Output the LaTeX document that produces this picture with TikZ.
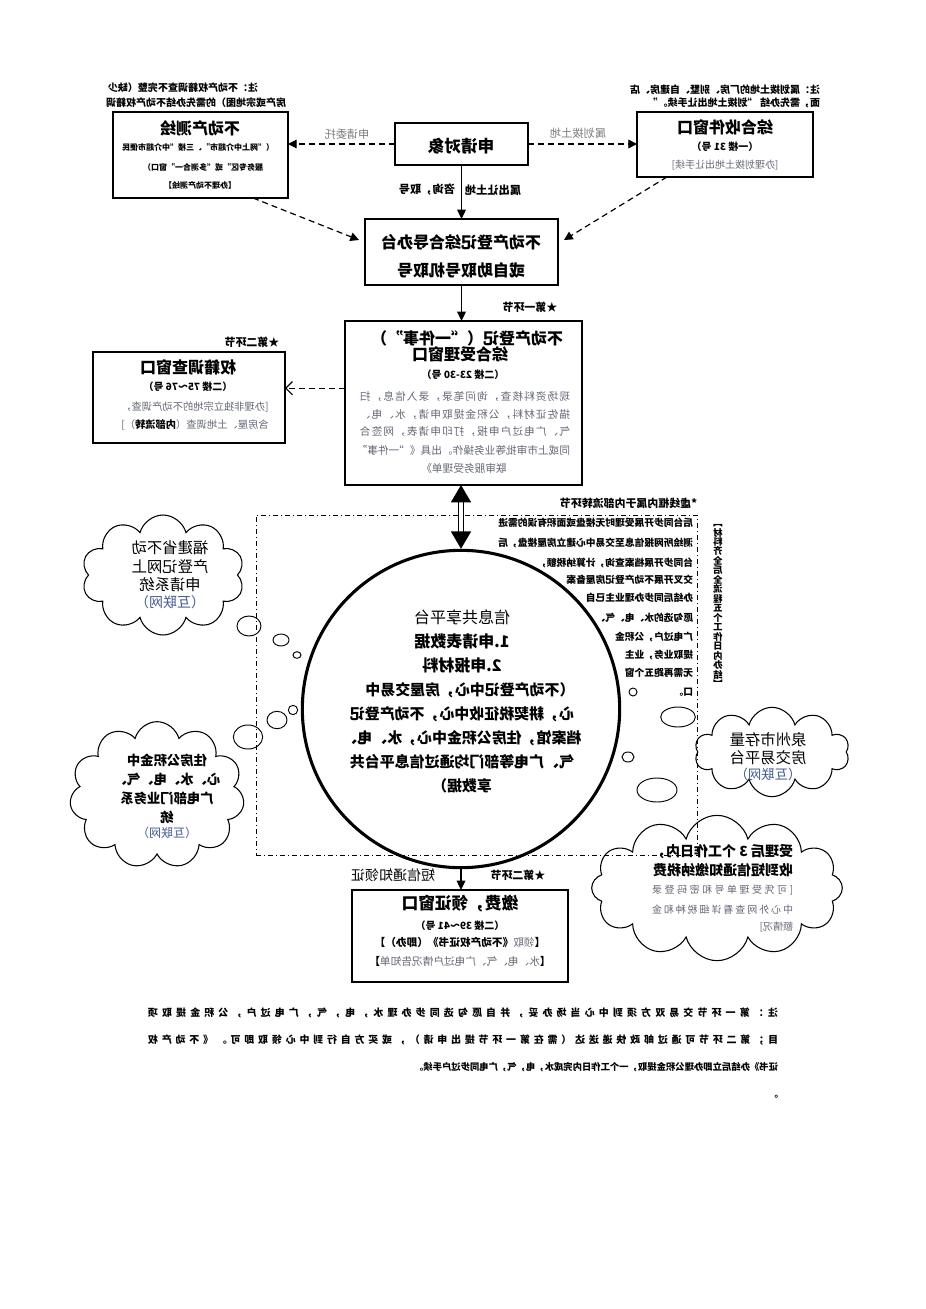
\documentclass[tikz,border=0pt]{standalone}
\usepackage{fontspec}
\setmainfont{Noto Sans CJK SC}
\usepackage{graphicx}
\usetikzlibrary{arrows.meta,shapes.symbols,shapes.geometric,fit,calc}
\definecolor{gtx}{RGB}{100,104,118}
\definecolor{blu}{RGB}{70,92,145}
\definecolor{lgr}{RGB}{125,125,125}
\newcommand\mr[1]{\reflectbox{#1}}
\newcommand\fs[1]{\fontsize{#1}{#1}\selectfont}
\makeatletter
\def\sprd#1{\sprd@a#1\sprd@end}
\def\sprd@end{\sprd@end}
\def\sprd@a#1{#1\sprd@b}
\def\sprd@b#1{\ifx#1\sprd@end\else\hfill#1\expandafter\sprd@b\fi}
\def\vst#1{\vst@a#1\sprd@end}
\def\vst@a#1{\ifx#1\sprd@end\else\hbox to 7pt{\hss#1\hss}\expandafter\vst@a\fi}
\makeatother
\newcommand\spr[2]{\hbox to #1{\sprd{#2}}}
\begin{document}
\begin{tikzpicture}[x=0.75pt,y=-0.75pt,
 box/.style={draw,line width=0.9pt,inner sep=0pt,outer sep=0pt},
 tx/.style={inner sep=0pt,outer sep=0pt},
 dsh/.style={line width=0.9pt,dash pattern=on 4.5pt off 3pt},
 tip/.style={-{Triangle[length=6.5pt,width=6.5pt]}},
 tri/.style={line width=0.9pt,-{Triangle[length=7pt,width=6.5pt]}},
 bub/.style={ellipse,draw,line width=0.7pt,inner sep=0pt},
 cld/.style={cloud,draw,line width=0.8pt,cloud ignores aspect,inner sep=0pt}]
\fill[white] (0,0) rectangle (925,1309);
\useasboundingbox (0,0) rectangle (925,1309);

% ---------- boxes ----------
\node[box,fit={(113,112)(288,198)}] (ch) {};
\node[box,fit={(395,123)(528,165)}] (so) {};
\node[box,fit={(637,112)(813,177)}] (zh) {};
\node[box,fit={(365,219)(558,285)}] (dt) {};
\node[box,fit={(345,321)(582,485)}] (sl) {};
\node[box,fit={(93,352)(285,443)}] (qj) {};
\node[box,fit={(352,890)(568,982)}] (lz) {};
\node[draw,line width=0.6pt,dash pattern=on 4pt off 2pt on 1pt off 2pt,inner sep=0pt,fit={(256,515)(697,855)}] (dreg) {};
\node[circle,draw,line width=2.3pt,minimum size=238pt,inner sep=0pt] (circ) at (461,709) {};

% ---------- clouds and bubbles ----------
\node[cld,cloud puffs=10,minimum width=122pt,minimum height=90pt] (cl1) at (163,575) {};
\node[cld,cloud puffs=11,minimum width=131pt,minimum height=110pt] (cl2) at (157,795) {};
\node[cld,cloud puffs=10,minimum width=116pt,minimum height=67pt] (cl3) at (772,752) {};
\node[cld,cloud puffs=12,minimum width=188pt,minimum height=109pt] (cl4) at (717,888) {};
\node[bub,minimum width=18pt,minimum height=15pt] (b1) at (249,626) {};
\node[bub,minimum width=12pt,minimum height=9pt] (b2) at (281,640) {};
\node[bub,minimum width=6pt,minimum height=5pt] (b3) at (297,655) {};
\node[bub,minimum width=22pt,minimum height=18pt] (b4) at (248,737) {};
\node[bub,minimum width=15pt,minimum height=13pt] (b5) at (277,720) {};
\node[bub,minimum width=7pt,minimum height=7pt] (b6) at (293,710) {};
\node[bub,minimum width=6pt,minimum height=6pt] (b7) at (633,692) {};
\node[bub,minimum width=26pt,minimum height=15pt] (b8) at (678,717) {};
\node[bub,minimum width=9pt,minimum height=7.5pt] (b9) at (628,757) {};
\node[bub,minimum width=30pt,minimum height=18pt] (b10) at (657,790) {};

% ---------- connectors ----------
\draw[dsh,tip] (so.west) -- (so.west -| ch.east);
\draw[dsh,tip] (so.east) -- (so.east -| zh.west);
\draw[dsh,tip] ($(ch.south west)!0.8!(ch.south east)$) -- ($(dt.west)+(-6,-12)$);
\draw[dsh,tip] ($(zh.south west)!0.17!(zh.south east)$) -- ($(dt.east)+(6,-12)$);
\draw[tri] (so.south) -- (so.south |- dt.north);
\draw[tri] (dt.south) -- (dt.south |- sl.north);
\draw[dsh,-{Straight Barb[length=5pt,width=10pt]}] ($(sl.north west)!0.41!(sl.south west)$) coordinate (a1) -- (a1 -| qj.east);
\draw[line width=0.9pt,double distance=2.5pt,{Triangle[length=13pt,width=15pt]}-{Triangle[length=13pt,width=15pt]}] (circ.north |- sl.south) -- (circ.north);
\draw[tri] (circ.south) -- (circ.south |- lz.north);

% ---------- top notes ----------
\node[tx] (n1) at (183,88) {\fs{7.5}\bfseries\mr{注：不动产权籍调查不完整（缺少}};
\node[tx] (n2) at (196,103) {\fs{7.5}\bfseries\mr{房产或宗地图）的需先办结不动产权籍调}};
\node[tx,anchor=east] (n3) at (820,90) {\fs{7.5}\bfseries\mr{注：属划拨土地的厂房、别墅、自建房、店}};
\node[tx,anchor=east] (n4) at (820,103) {\fs{7.5}\bfseries\mr{面，需先办结 “划拨土地出让手续。”}};

% ---------- 不动产测绘 ----------
\node[tx] (ch1) at (200,128) {\fs{12}\bfseries\mr{不动产测绘}};
\node[tx] (ch2) at (198,147) {\fs{6}\bfseries\mr{（“网上中介超市”、三楼“中介超市便民}};
\node[tx] (ch3) at (203,167) {\fs{6}\bfseries\mr{服务专区”或“多测合一”窗口）}};
\node[tx] (ch4) at (200,185) {\fs{6}\bfseries\mr{【办理不动产测绘】}};

% ---------- 申请对象 ----------
\node[tx] (so1) at (461,146) {\fs{12.5}\bfseries\mr{申请对象}};
\node[tx] (l1) at (347,134) {\fs{8.4}\color{lgr}\mr{申请委托}};
\node[tx] (l2) at (578,133) {\fs{8.4}\color{lgr}\mr{属划拨土地}};
\node[tx] (l3) at (493,190) {\fs{8.4}\bfseries\mr{属出让土地}};
\node[tx] (l4) at (427,190) {\fs{8.4}\bfseries\mr{咨询，取号}};

% ---------- 综合收件窗口 ----------
\node[tx] (zh1) at (725,127) {\fs{12}\bfseries\mr{综合收件窗口}};
\node[tx] (zh2) at (725,147) {\fs{7.5}\bfseries\mr{（一楼 31 号）}};
\node[tx] (zh3) at (725,165) {\fs{7.5}\color{gtx}\mr{[办理划拨土地出让手续]}};

% ---------- 导办台 ----------
\node[tx] (dt1) at (461,242) {\fs{12}\bfseries\mr{不动产登记综合导办台}};
\node[tx] (dt2) at (461,270) {\fs{12}\bfseries\mr{或自助取号机取号}};
\node[tx] (s1) at (530,307) {\fs{8.2}\bfseries\mr{★第一环节}};

% ---------- 综合受理窗口 ----------
\node[tx] (sl1) at (467,338) {\fs{12}\bfseries\mr{不动产登记（“一件事”）}};
\node[tx] (sl2) at (460,354) {\fs{12}\bfseries\mr{综合受理窗口}};
\node[tx] (sl3) at (463,375) {\fs{7.5}\bfseries\mr{（二楼 23-30 号）}};
\node[tx] (sl4) at (465,397) {\fs{8}\color{gtx}\mr{\spr{157.5pt}{现场资料核查，询问笔录，录入信息，扫}}};
\node[tx] (sl5) at (465,415) {\fs{8}\color{gtx}\mr{\spr{157.5pt}{描佐证材料，公积金提取申请，水、电、}}};
\node[tx] (sl6) at (465,432) {\fs{8}\color{gtx}\mr{\spr{157.5pt}{气、广电过户申报，打印申请表，网签合}}};
\node[tx] (sl7) at (465,450) {\fs{8}\color{gtx}\mr{\spr{157.5pt}{同或上市审批等业务操作。出具《“一件事”}}};
\node[tx] (sl8) at (464,468) {\fs{8}\color{gtx}\mr{联审服务受理单》}};

% ---------- 权籍调查窗口 ----------
\node[tx] (s2) at (252,342) {\fs{8.2}\bfseries\mr{★第二环节}};
\node[tx] (qj1) at (188,367) {\fs{12}\bfseries\mr{权籍调查窗口}};
\node[tx] (qj2) at (188,387) {\fs{7.5}\bfseries\mr{（二楼 75～76 号）}};
\node[tx] (qj3) at (195,407) {\fs{7.7}\color{gtx}\mr{[办理非独立宗地的不动产调查，}};
\node[tx] (qj4) at (195,425) {\fs{7.7}\color{gtx}\mr{含房屋、土地调查（{\color{black}\bfseries 内部流转}）]}};

% ---------- dashed region texts ----------
\node[tx,anchor=east] (dh) at (697,503) {\fs{8.2}\bfseries\mr{*虚线框内属于内部流转环节}};
\node[tx,anchor=east] (d1) at (693,523) {\fs{7.3}\bfseries\mr{后台同步开展受理时无楼盘或面积有误的需进}};
\node[tx,anchor=east] (d2) at (693,543) {\fs{7.3}\bfseries\mr{测绘所网报信息至交易中心建立房屋楼盘，后}};
\node[tx,anchor=east] (d3) at (693,563) {\fs{7.3}\bfseries\mr{台同步开展档案查询，计算纳税额，}};
\node[tx,anchor=east] (d4) at (693,580) {\fs{7.3}\bfseries\mr{交叉开展不动产登记房屋备案}};
\node[tx,anchor=east] (d5) at (693,598) {\fs{7.3}\bfseries\mr{办结后同步办理业主已自}};
\node[tx,anchor=east] (d6) at (693,618) {\fs{7.3}\bfseries\mr{愿勾选的水、电、气、}};
\node[tx,anchor=east] (d7) at (693,637) {\fs{7.3}\bfseries\mr{广电过户，公积金}};
\node[tx,anchor=east] (d8) at (693,655) {\fs{7.3}\bfseries\mr{提取业务，业主}};
\node[tx,anchor=east] (d9) at (693,673) {\fs{7.3}\bfseries\mr{无需再跑五个窗}};
\node[tx,anchor=east] (d10) at (693,692) {\fs{7.3}\bfseries\mr{口。}};
\node[tx] (vt) at (718,606) {\fs{7}\bfseries\mr{\vbox{\baselineskip=7.1pt\lineskiplimit=-20pt\vst{︻材料齐全后全流程五个工作日内办结︼}}}};

% ---------- circle texts ----------
\node[tx] (c1) at (462,617) {\fs{12}\mr{信息共享平台}};
\node[tx] (c2) at (462,641) {\fs{12}\bfseries\mr{1.申请表数据}};
\node[tx] (c3) at (462,665) {\fs{12}\bfseries\mr{2.申报材料}};
\node[tx] (c4) at (470,690) {\fs{11.2}\bfseries\mr{（不动产登记中心，房屋交易中}};
\node[tx] (c5) at (462,714) {\fs{11.2}\bfseries\mr{心，耕契税征收中心，不动产登记}};
\node[tx] (c6) at (462,738) {\fs{11.2}\bfseries\mr{档案馆，住房公积金中心，水、电、}};
\node[tx] (c7) at (462,762) {\fs{11.2}\bfseries\mr{气、广电等部门均通过信息平台共}};
\node[tx] (c8) at (462,786) {\fs{11.2}\bfseries\mr{享数据）}};

% ---------- cloud texts ----------
\node[tx] (k1) at (170,548) {\fs{11.5}\mr{福建省不动}};
\node[tx] (k2) at (170,567) {\fs{11.5}\mr{产登记网上}};
\node[tx] (k3) at (170,585) {\fs{11.5}\mr{申请系统}};
\node[tx] (k4) at (170,602) {\fs{10.5}\color{blu}\mr{（互联网）}};
\node[tx] (m1) at (167,760) {\fs{10}\bfseries\mr{住房公积金中}};
\node[tx] (m2) at (167,779) {\fs{10}\bfseries\mr{心、水、电、气、}};
\node[tx] (m3) at (167,798) {\fs{10}\bfseries\mr{广电部门业务系}};
\node[tx] (m4) at (167,817) {\fs{10}\bfseries\mr{统}};
\node[tx] (m5) at (167,833) {\fs{9}\color{blu}\mr{（互联网）}};
\node[tx] (q1) at (768,740) {\fs{11.5}\mr{泉州市存量}};
\node[tx] (q2) at (768,758) {\fs{11.5}\mr{房交易平台}};
\node[tx] (q3) at (768,774) {\fs{10}\color{blu}\mr{（互联网）}};
\node[tx,anchor=east] (r1) at (793,852) {\fs{10.5}\bfseries\mr{受理后 3 个工作日内，}};
\node[tx,anchor=east] (r2) at (793,870) {\fs{10.5}\bfseries\mr{收到短信通知缴纳税费}};
\node[tx,anchor=east] (r3) at (793,890) {\fs{7.5}\color{gtx}\mr{\spr{105.75pt}{[可凭受理单号和密码登录}}};
\node[tx,anchor=east] (r4) at (793,910) {\fs{7.5}\color{gtx}\mr{\spr{105.75pt}{中心外网查看详细税种和金}}};
\node[tx,anchor=east] (r5) at (793,927) {\fs{7.5}\color{gtx}\mr{额情况]}};

% ---------- 缴费领证窗口 ----------
\node[tx] (w1) at (393,875) {\fs{10.5}\mr{短信通知领证}};
\node[tx] (s3) at (518,875) {\fs{8.2}\bfseries\mr{★第二环节}};
\node[tx] (lz1) at (460,904) {\fs{12.5}\bfseries\mr{缴费，领证窗口}};
\node[tx] (lz2) at (460,926) {\fs{7.5}\bfseries\mr{（二楼 39～41 号）}};
\node[tx] (lz3) at (460,942) {\fs{8}\bfseries\mr{【{\mdseries\color{gtx}领取}《不动产权证书》（即办）】}};
\node[tx] (lz4) at (460,961) {\fs{8}\bfseries\mr{【{\mdseries\color{gtx}水、电、气、广电过户情况告知单}】}};

% ---------- bottom note ----------
\node[tx,anchor=east] (e1) at (778,1013) {\fs{7.5}\bfseries\mr{\spr{472.5pt}{注：第一环节交易双方须到中心当场办妥，并自愿勾选同步办理水，电，气，广电过户，公积金提取项}}};
\node[tx,anchor=east] (e2) at (778,1040) {\fs{7.5}\bfseries\mr{\spr{472.5pt}{目；第二环节可通过邮政快递送达（需在第一环节提出申请），或买方自行到中心领取即可。《不动产权}}};
\node[tx,anchor=east] (e3) at (778,1067) {\fs{7}\bfseries\mr{证书》办结后立即办理公积金提取，一个工作日内完成水，电，气，广电同步过户手续。}};
\node[tx,anchor=east] (e4) at (778,1097) {\fs{7}\bfseries\mr{。}};
\end{tikzpicture}
\end{document}
